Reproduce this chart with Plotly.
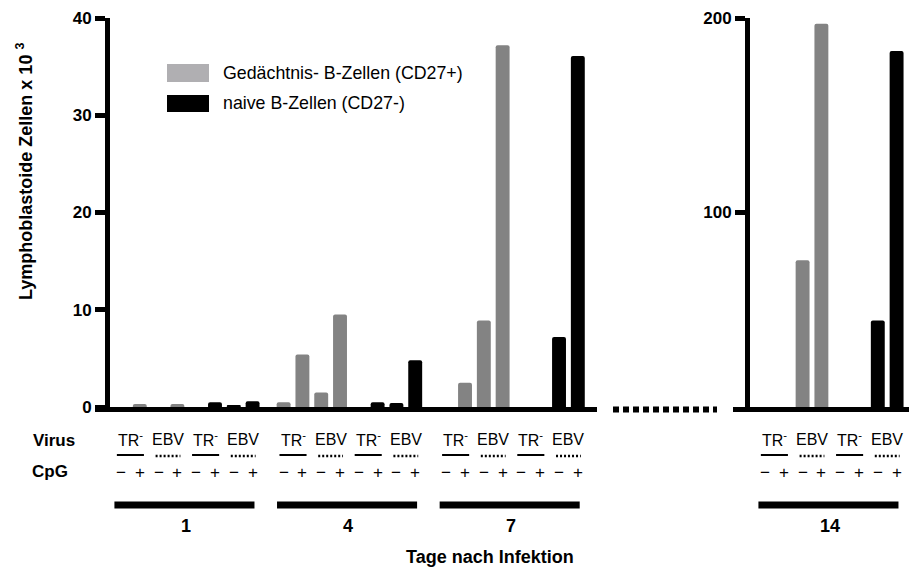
import plotly.graph_objects as go

# ---------------- data ----------------
days_left = ["1", "4", "7"]
day_right = "14"
virus_labels = ["TR<sup>-</sup>", "EBV", "TR<sup>-</sup>", "EBV"]
cpg_labels = ["\u2212", "+"]
series_names = ["Gedächtnis- B-Zellen (CD27+)", "naive B-Zellen (CD27-)"]

# values (x 10^3), order: TR- (-,+), EBV (-,+)
mem_d1 = [0, 0.3, 0, 0.3]
naive_d1 = [0, 0.5, 0.2, 0.6]
mem_d4 = [0.5, 5.4, 1.5, 9.5]
naive_d4 = [0, 0.5, 0.4, 4.8]
mem_d7 = [0, 2.5, 8.9, 37.2]
naive_d7 = [0, 0, 7.2, 36.1]
mem_d14 = [0, 0, 75.5, 197]
naive_d14 = [0, 0, 44.5, 183]

left_ticks = [0, 10, 20, 30, 40]
right_ticks = [100, 200]

# ---------------- layout helpers ----------------
W, H = 909, 569
def fx(px):
    return px / W
def fy(py):
    return 1 - py / H

GRAY = "#838383"
LEG_GRAY = "#b0afb2"
FONT = "Liberation Sans, Arial, sans-serif"
GROUP_STEP = 8.65
BAR_W = 0.74

fig = go.Figure()

mem_left = [mem_d1, mem_d4, mem_d7]
naive_left = [naive_d1, naive_d4, naive_d7]
xs_mem, ys_mem, xs_nv, ys_nv = [], [], [], []
for g in range(len(days_left)):
    base = g * GROUP_STEP
    xs_mem += [base + j for j in range(4)]
    ys_mem += mem_left[g]
    xs_nv += [base + 4 + j for j in range(4)]
    ys_nv += naive_left[g]

fig.add_trace(go.Bar(x=xs_mem, y=ys_mem, name=series_names[0], marker_color=GRAY,
                     width=BAR_W, xaxis="x", yaxis="y", marker_line_width=0))
fig.add_trace(go.Bar(x=xs_nv, y=ys_nv, name=series_names[1], marker_color="black",
                     width=BAR_W, xaxis="x", yaxis="y", marker_line_width=0))
fig.add_trace(go.Bar(x=[0, 1, 2, 3], y=mem_d14, name=series_names[0], marker_color=GRAY,
                     width=BAR_W, xaxis="x2", yaxis="y2", marker_line_width=0, showlegend=False))
fig.add_trace(go.Bar(x=[4, 5, 6, 7], y=naive_d14, name=series_names[1], marker_color="black",
                     width=BAR_W, xaxis="x2", yaxis="y2", marker_line_width=0, showlegend=False))

ydom = [fy(407), fy(18)]
axis_common = dict(showgrid=False, zeroline=False, showline=True, linecolor="black", linewidth=5,
                   automargin=False)

fig.update_layout(
    template="none",
    width=W, height=H,
    margin=dict(l=0, r=0, t=0, b=0, pad=0),
    paper_bgcolor="white", plot_bgcolor="white",
    showlegend=False,
    barmode="overlay",
    barcornerradius=2,
    font=dict(family=FONT, color="black"),
    xaxis=dict(domain=[fx(95), fx(597)], range=[-1.383, 25.32], showticklabels=False,
               ticks="", anchor="y", **axis_common),
    yaxis=dict(domain=ydom, range=[0, 40], anchor="free", position=fx(107),
               tickvals=left_ticks, ticks="outside", ticklen=10, tickwidth=5, tickcolor="black",
               tickfont=dict(size=17, weight="bold", family=FONT, color="black"), **axis_common),
    xaxis2=dict(domain=[fx(733), 1.0], range=[-1.702, 7.66], showticklabels=False,
                ticks="", anchor="y2", **axis_common),
    yaxis2=dict(domain=ydom, range=[0, 200], anchor="free", position=fx(747),
                tickvals=right_ticks, ticks="outside", ticklen=10, tickwidth=5, tickcolor="black",
                tickfont=dict(size=17, weight="bold", family=FONT, color="black"), **axis_common),
)

shapes = []
ann = []

# legend (drawn manually as wide swatches)
shapes.append(dict(type="rect", xref="paper", yref="paper", x0=fx(167), x1=fx(209), y0=fy(82), y1=fy(64),
                   fillcolor=LEG_GRAY, line=dict(width=0)))
shapes.append(dict(type="rect", xref="paper", yref="paper", x0=fx(167), x1=fx(209), y0=fy(112), y1=fy(95),
                   fillcolor="black", line=dict(width=0)))
ann.append(dict(text=series_names[0], xref="paper", yref="paper", x=fx(221), y=fy(73),
                xanchor="left", yanchor="middle", showarrow=False, font=dict(size=17.8)))
ann.append(dict(text=series_names[1], xref="paper", yref="paper", x=fx(221), y=fy(103),
                xanchor="left", yanchor="middle", showarrow=False, font=dict(size=17.8)))

# axis break dotted line
shapes.append(dict(type="line", xref="paper", yref="paper", x0=fx(613), x1=fx(717), y0=fy(409.5), y1=fy(409.5),
                   line=dict(color="black", width=6, dash="6px,4px")))

# y title
ann.append(dict(text="<b>Lymphoblastoide Zellen x 10 <sup>3</sup></b>", xref="paper", yref="paper",
                x=fx(24), y=fy(172), textangle=-90, showarrow=False, font=dict(size=18),
                xanchor="center", yanchor="middle"))

# row labels
ann.append(dict(text="<b>Virus</b>", xref="paper", yref="paper", x=fx(31), y=fy(440),
                xanchor="left", yanchor="middle", showarrow=False, font=dict(size=17)))
ann.append(dict(text="<b>CpG</b>", xref="paper", yref="paper", x=fx(30), y=fy(471),
                xanchor="left", yanchor="middle", showarrow=False, font=dict(size=17)))

def add_group(xref, base, day):
    for k in range(4):
        cx = base + 2 * k + 0.5
        ann.append(dict(text=virus_labels[k], xref=xref, yref="paper", x=cx, y=fy(439),
                        xanchor="center", yanchor="middle", showarrow=False, font=dict(size=16)))
        if k % 2 == 0:
            shapes.append(dict(type="line", xref=xref, yref="paper", x0=cx - 0.72, x1=cx + 0.72,
                               y0=fy(455), y1=fy(455), line=dict(color="black", width=2)))
        else:
            shapes.append(dict(type="line", xref=xref, yref="paper", x0=cx - 0.66, x1=cx + 0.66,
                               y0=fy(456), y1=fy(456), line=dict(color="black", width=2.5, dash="2px,2px")))
        for s in range(2):
            ann.append(dict(text=cpg_labels[s], xref=xref, yref="paper", x=base + 2 * k + s, y=fy(472),
                            xanchor="center", yanchor="middle", showarrow=False, font=dict(size=17)))
    shapes.append(dict(type="line", xref=xref, yref="paper", x0=base - 0.35, x1=base + 7.1,
                       y0=fy(505), y1=fy(505), line=dict(color="black", width=7)))
    ann.append(dict(text="<b>%s</b>" % day, xref=xref, yref="paper", x=base + 3.45, y=fy(526),
                    xanchor="center", yanchor="middle", showarrow=False, font=dict(size=18)))

for g, d in enumerate(days_left):
    add_group("x", g * GROUP_STEP, d)
add_group("x2", 0, day_right)

ann.append(dict(text="<b>Tage nach Infektion</b>", xref="paper", yref="paper", x=fx(490), y=fy(557),
                xanchor="center", yanchor="middle", showarrow=False, font=dict(size=18)))

fig.update_layout(shapes=shapes, annotations=ann)
fig.write_html("out.html",
               config={"displayModeBar": False},
               post_script="document.body.style.margin='0';document.body.style.overflow='hidden';")
